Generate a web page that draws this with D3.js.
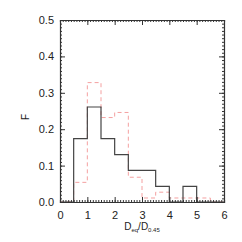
<!DOCTYPE html>
<html>
<head>
<meta charset="utf-8">
<script src="https://cdn.jsdelivr.net/npm/d3@7"></script>
<style>
body { margin: 0; background: #fff; }
text { font-family: "Liberation Sans", Arial, sans-serif; fill: #222; }
</style>
</head>
<body>
<div id="chart"></div>
<script>
// bin edges and fractions
var edges = [0, 0.5, 1, 1.5, 2, 2.5, 3, 3.5, 4, 4.5, 5, 5.5, 6]
var black_vals = [0, 0.174, 0.261, 0.174, 0.130, 0.087, 0.087, 0.043, 0, 0.043, 0, 0]
var red_vals = [0, 0.054, 0.328, 0.232, 0.246, 0.068, 0.011, 0.027, 0.011, 0.011, 0.011, 0]
var xticks = [0, 1, 2, 3, 4, 5, 6]
var yticks = [0, 0.1, 0.2, 0.3, 0.4, 0.5]

var width = 242, height = 242
var pleft = 60, pright = 224, ptop = 20, pbottom = 202

var svg = d3.select("#chart").append("svg")
    .attr("width", width)
    .attr("height", height)

var x = d3.scaleLinear().domain([0, 6]).range([pleft, pright])
var y = d3.scaleLinear().domain([0, 0.5]).range([pbottom, ptop])

// step line through the bins
function steps(vals) {
    var pts = []
    for (var i = 0; i < vals.length; i++) {
        pts.push([edges[i], vals[i]])
        pts.push([edges[i + 1], vals[i]])
    }
    return pts
}
var line = d3.line()
    .x(function(d) { return x(d[0]) })
    .y(function(d) { return y(d[1]) })

svg.append("path")
    .attr("d", line(steps(red_vals)))
    .attr("fill", "none")
    .attr("stroke", "#f4a0a0")
    .attr("stroke-width", 1)
    .attr("stroke-dasharray", "4,3")

svg.append("path")
    .attr("d", line(steps(black_vals)))
    .attr("fill", "none")
    .attr("stroke", "#444")
    .attr("stroke-width", 1.2)

// axes, IDL style: ticks inside on all four sides
var axcol = "#333"
var minorX = d3.range(0, 6.001, 0.1)
var minorY = d3.range(0, 0.5001, 0.01)

svg.append("g").attr("transform", "translate(0," + pbottom + ")")
    .call(d3.axisBottom(x).tickValues(minorX).tickSize(-2).tickFormat(""))
svg.append("g").attr("transform", "translate(0," + ptop + ")")
    .call(d3.axisTop(x).tickValues(minorX).tickSize(-2).tickFormat(""))
svg.append("g").attr("transform", "translate(" + pleft + ",0)")
    .call(d3.axisLeft(y).tickValues(minorY).tickSize(-2).tickFormat(""))
svg.append("g").attr("transform", "translate(" + pright + ",0)")
    .call(d3.axisRight(y).tickValues(minorY).tickSize(-2).tickFormat(""))

svg.append("g").attr("transform", "translate(0," + pbottom + ")")
    .call(d3.axisBottom(x).tickValues(xticks).tickSize(-5).tickPadding(9).tickFormat(d3.format("d")))
    .call(function(g) { g.select(".domain").remove() })
svg.append("g").attr("transform", "translate(0," + ptop + ")")
    .call(d3.axisTop(x).tickValues(xticks).tickSize(-5).tickFormat(""))
    .call(function(g) { g.select(".domain").remove() })
svg.append("g").attr("transform", "translate(" + pleft + ",0)")
    .call(d3.axisLeft(y).tickValues(yticks).tickSize(-5).tickPadding(6).tickFormat(d3.format(".1f")))
    .call(function(g) { g.select(".domain").remove() })
svg.append("g").attr("transform", "translate(" + pright + ",0)")
    .call(d3.axisRight(y).tickValues(yticks).tickSize(-5).tickFormat(""))
    .call(function(g) { g.select(".domain").remove() })

svg.selectAll(".domain").attr("stroke", axcol).attr("stroke-width", 1.2)
svg.selectAll(".tick line").attr("stroke", axcol)
svg.selectAll(".tick text").attr("font-size", 11).attr("fill", "#222")

// labels
svg.append("text")
    .attr("transform", "translate(29,117) rotate(-90)")
    .attr("text-anchor", "middle")
    .attr("font-size", 10)
    .text("F")

var xl = svg.append("text")
    .attr("x", (pleft + pright) / 2)
    .attr("y", 230)
    .attr("text-anchor", "middle")
    .attr("font-size", 10)
xl.append("tspan").text("D")
xl.append("tspan").attr("font-size", 6).attr("dy", 2).text("eq")
xl.append("tspan").attr("dy", -2).text("/D")
xl.append("tspan").attr("font-size", 6).attr("dy", 2).text("0.45")
</script>
</body>
</html>
